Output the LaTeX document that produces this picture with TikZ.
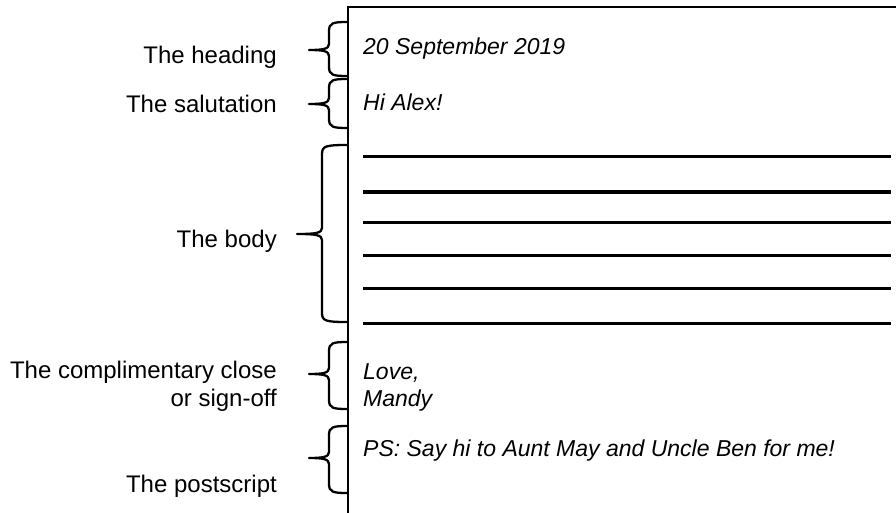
\documentclass[tikz,border=0pt]{standalone}
\usepackage{fontspec}
\setmainfont{Liberation Sans}
\begin{document}
\begin{tikzpicture}[x=1pt,y=-1pt,
  lbl/.style={anchor=base east,inner sep=0pt,font=\fontsize{24}{28}\selectfont,align=right},
  ltxt/.style={anchor=base west,inner sep=0pt,font=\fontsize{23}{27}\selectfont\itshape,align=left},
  border/.style={line width=2pt},
  rule/.style={line width=3pt},
  brc/.style={line width=2.3pt,line join=round}]
\useasboundingbox (0,0) rectangle (896,513);
% letter border
\coordinate (tl) at (348,7);
\coordinate (tr) at (896,7);
\coordinate (bl) at (348,513);
\draw[border] (tr) -- (tl) -- (bl);
% body lines
\foreach \i/\y in {1/157,2/192,3/222,4/255,5/288,6/323}{
  \coordinate (ls\i) at (363,\y);
  \coordinate (le\i) at (891,\y);
  \draw[rule] (ls\i) -- (le\i);
}
% braces
\foreach \n/\t/\m/\b/\s/\k in {h/22/50/76/329/309,s/79/104/128/329/309,bd/145/234/322/322/297,c/342/374/409/329/309,p/426/458/493/329/309}{
  \coordinate (\n t) at (347,\t);
  \coordinate (\n b) at (347,\b);
  \coordinate (\n m) at (\k,\m);
  \draw[brc] (\n t) .. controls (\s+4,\t) and (\s,\t+1) .. (\s,\t+9)
     -- (\s,\m-6) .. controls (\s,\m-1) and (\s-6,\m) .. (\n m)
     .. controls (\s-6,\m) and (\s,\m+1) .. (\s,\m+6)
     -- (\s,\b-9) .. controls (\s,\b-1) and (\s+4,\b) .. (\n b);
}
% labels
\node[lbl] (Lh) at (277,64) {The heading};
\node[lbl] (Ls) at (277,113) {The salutation};
\node[lbl] (Lb) at (277,247) {The body};
\node[lbl] (Lc) at (277,406) {The complimentary close\\or sign-off};
\node[lbl] (Lp) at (277,492) {The postscript};
% letter text
\node[ltxt] (date) at (363,55) {20 September 2019};
\node[ltxt] (sal) at (363,111) {Hi Alex!};
\node[ltxt] (close) at (363,406) {Love,\\Mandy};
\node[ltxt] (ps) at (363,456) {PS: Say hi to Aunt May and Uncle Ben for me!};
\end{tikzpicture}
\end{document}
